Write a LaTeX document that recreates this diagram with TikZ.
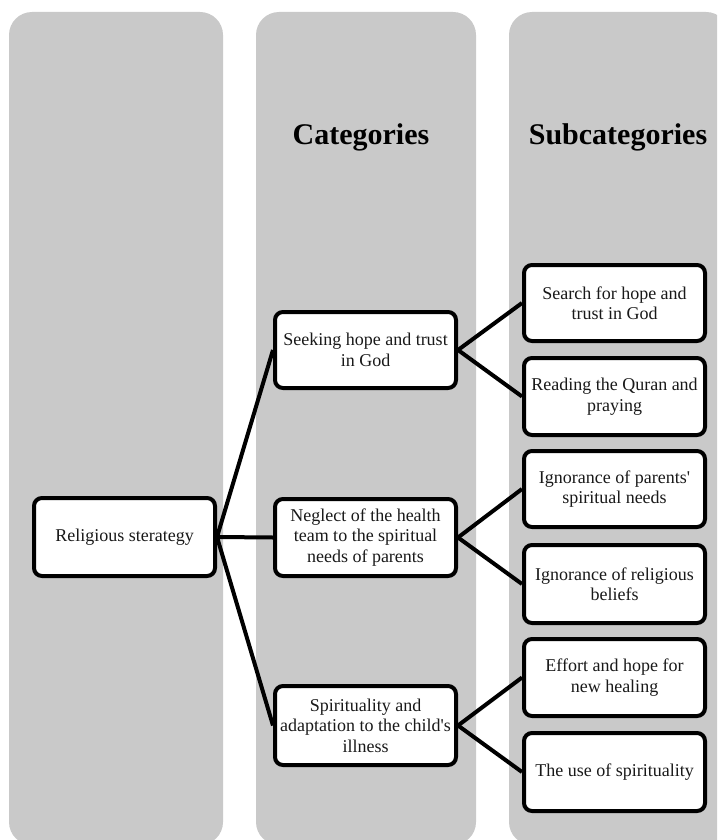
\documentclass[tikz,border=0pt]{standalone}
\usepackage{fontspec}
\setmainfont{Liberation Serif}[Ligatures=TeXOff]
\definecolor{colgray}{RGB}{201,201,201}
\definecolor{txt}{RGB}{25,25,25}
\begin{document}
\begin{tikzpicture}[x=1pt,y=-1pt,
  column/.style={fill=colgray, rounded corners=23pt},
  box/.style={draw=black, fill=white, line width=4pt, rounded corners=8pt,
    minimum width=181pt, align=center, inner sep=0pt, text=txt,
    font=\fontsize{18}{20.5}\selectfont},
  head/.style={font=\fontsize{30}{34}\selectfont\bfseries, text=black},
  link/.style={draw=black, line width=4pt}]
\useasboundingbox (0,0) rectangle (717,840);
\clip (0,0) rectangle (717,840);
% columns
\path[column] (9,12) rectangle (223,845);
\path[column] (256,12) rectangle (476,845);
\path[column] (509,12) rectangle (729,845);
% headings
\node[head] (hcat) at (361,137) {Categories};
\node[head] (hsub) at (618,137) {Subcategories};
% main
\node[box, minimum height=78pt] (rel) at (124.5,537) {Religious sterategy};
% categories
\node[box, minimum height=76pt] (c1) at (365.5,350) {Seeking hope and trust\\in God};
\node[box, minimum height=77pt] (c2) at (365.5,537.5) {Neglect of the health\\team to the spiritual\\needs of parents};
\node[box, minimum height=79pt] (c3) at (365.5,725.5) {Spirituality and\\adaptation to the child's\\illness};
% subcategories
\node[box, minimum height=76pt] (s1) at (614.5,303) {Search for hope and\\trust in God};
\node[box, minimum height=77pt] (s2) at (614.5,396.5) {Reading the Quran and\\praying};
\node[box, minimum height=76pt] (s3) at (614.5,489) {Ignorance of parents'\\spiritual needs};
\node[box, minimum height=78pt] (s4) at (614.5,584) {Ignorance of religious\\beliefs};
\node[box, minimum height=77pt] (s5) at (614.5,677.5) {Effort and hope for\\new healing};
\node[box, minimum height=78pt] (s6) at (614.5,772) {The use of spirituality};
% connectors
\draw[link] (rel.east) -- (c1.west);
\draw[link] (rel.east) -- (c2.west);
\draw[link] (rel.east) -- (c3.west);
\draw[link] (c1.east) -- (s1.west);
\draw[link] (c1.east) -- (s2.west);
\draw[link] (c2.east) -- (s3.west);
\draw[link] (c2.east) -- (s4.west);
\draw[link] (c3.east) -- (s5.west);
\draw[link] (c3.east) -- (s6.west);
\end{tikzpicture}
\end{document}
